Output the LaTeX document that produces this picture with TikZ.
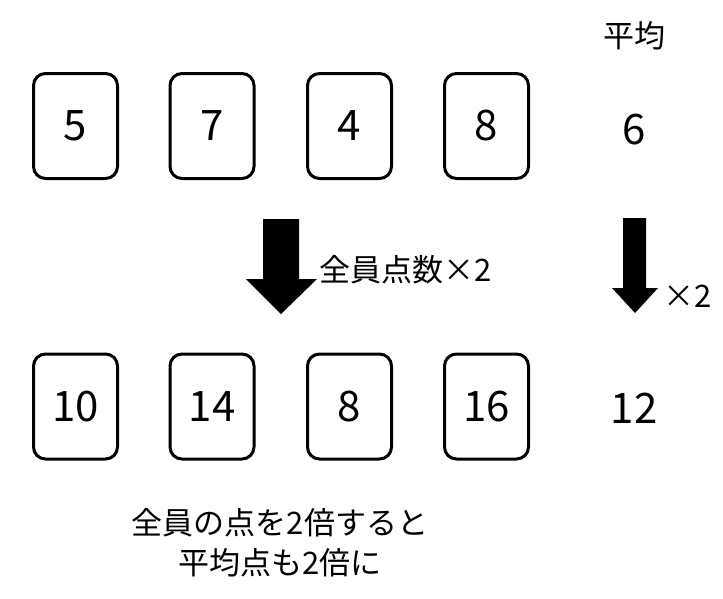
\documentclass[tikz,border=0pt]{standalone}
\usepackage{fontspec}
\setmainfont{Noto Sans CJK JP}
\begin{document}
\begin{tikzpicture}[x=1pt,y=-1pt,
  card/.style={draw=black,line width=3pt,rounded corners=12pt,minimum width=84pt,minimum height=105pt,inner sep=0pt,font=\fontsize{42}{46}\selectfont},
  avg/.style={inner sep=0pt,font=\fontsize{42}{46}\selectfont},
  lbl/.style={inner sep=0pt,font=\fontsize{31}{36}\selectfont}]
\useasboundingbox (0,0) rectangle (723,598);
% top row
\node[card] (a1) at (75.5,126) {5};
\node[card] (a2) at (212,126) {7};
\node[card] (a3) at (349.5,126) {4};
\node[card] (a4) at (486.5,126) {8};
\node[lbl] (hd) at (634,36) {平均};
\node[avg] (m1) at (634,130) {6};
% bottom row
\node[card] (b1) at (75.5,406.5) {10};
\node[card] (b2) at (212,406.5) {14};
\node[card] (b3) at (349.5,406.5) {8};
\node[card] (b4) at (486.5,406.5) {16};
\node[avg] (m2) at (634,408) {12};
% arrows
\fill (263,219) -- (299,219) -- (299,279) -- (317,279) -- (281,314) -- (246,279) -- (263,279) -- cycle;
\node[lbl,anchor=west] (t1) at (319,270) {全員点数×2};
\fill (623,218) -- (646,218) -- (646,288) -- (658,288) -- (635,313) -- (612,288) -- (623,288) -- cycle;
\node[lbl,anchor=west] (t2) at (663,296) {×2};
% conclusion
\node[lbl] (c1) at (280,523) {全員の点を2倍すると};
\node[lbl] (c2) at (280,563) {平均点も2倍に};
\end{tikzpicture}
\end{document}
